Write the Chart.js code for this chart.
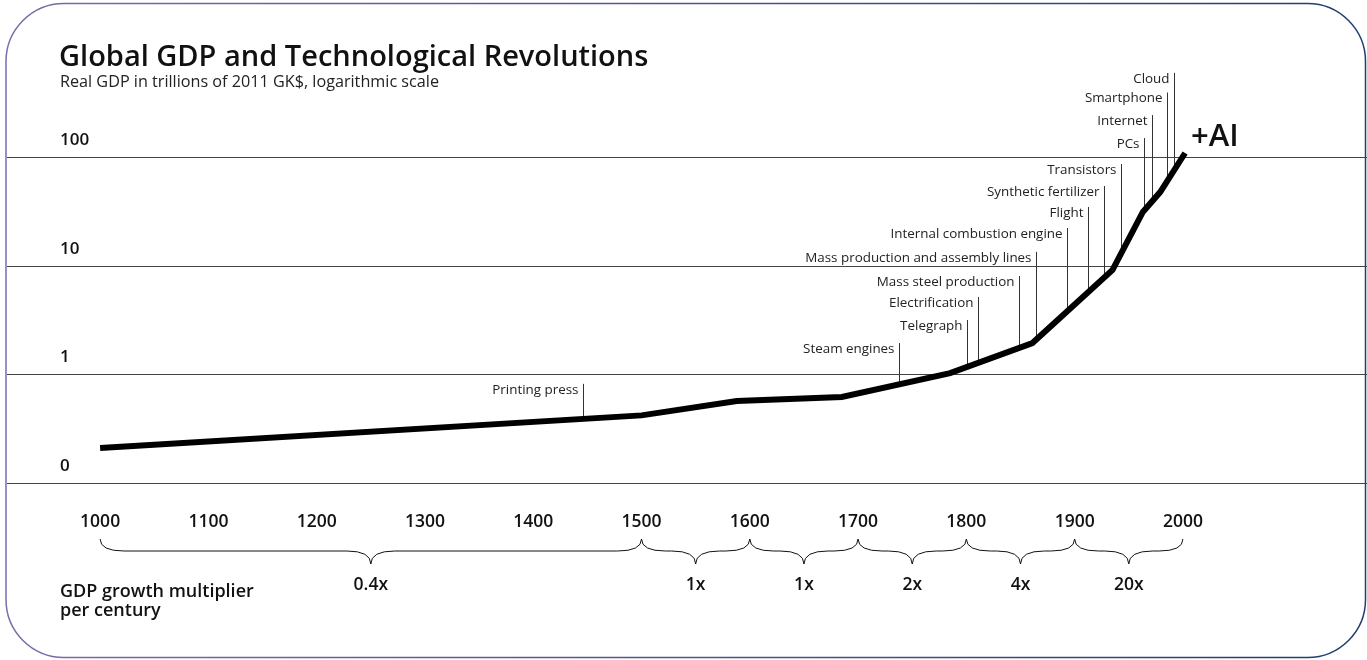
<!DOCTYPE html>
<html>
<head>
<meta charset="utf-8">
<title>Global GDP and Technological Revolutions</title>
<script src="https://cdn.jsdelivr.net/npm/chart.js@4.4.1/dist/chart.umd.min.js"></script>
<style>
  html, body { margin: 0; padding: 0; background: #fff; }
  #wrap { position: relative; width: 1367px; height: 660px; }
</style>
</head>
<body>
<div id="wrap"><canvas id="chart"></canvas></div>
<script>
// Real GDP in trillions of 2011 GK$
const gdpYears = [1000, 1500, 1588, 1685, 1785, 1861, 1935, 1963, 1979, 2002];
const gdpValues = [0.21, 0.42, 0.57, 0.62, 1.03, 1.95, 9.2, 31.5, 48, 110];

// Axis ticks
const yearTicks = [1000, 1100, 1200, 1300, 1400, 1500, 1600, 1700, 1800, 1900, 2000];
const gdpTicks = [0.1, 1, 10, 100];
const gdpTickLabels = ['0', '1', '10', '100'];

// Technology markers: label, year, and the height the label sits at (GDP scale)
const techNames = [
  'Printing press', 'Steam engines', 'Telegraph', 'Electrification',
  'Mass steel production', 'Mass production and assembly lines',
  'Internal combustion engine', 'Flight', 'Synthetic fertilizer',
  'Transistors', 'PCs', 'Internet', 'Smartphone', 'Cloud',
];
const techYears = [1446, 1738, 1801, 1811, 1849, 1864, 1893, 1912, 1927, 1943, 1964, 1971, 1985, 1992];
const techLevels = [0.82, 1.95, 3.18, 5.18, 8.08, 13.5, 22.4, 35.0, 54.6, 87, 151, 246, 397, 603];

// Century brackets under the x axis
const bracketStart = [1000, 1500, 1600, 1700, 1800, 1900];
const bracketEnd = [1500, 1600, 1700, 1800, 1900, 2000];
const growthLabels = ['0.4x', '1x', '1x', '2x', '4x', '20x'];

const FONT = "'Open Sans', 'Noto Sans', sans-serif";
const INK = '#111';

// rounded frame with purple -> navy stroke, plus title block
const framePlugin = {
  id: 'frame',
  beforeDraw(chart) {
    const ctx = chart.ctx;
    const x0 = 6, y0 = 3.5, x1 = 1365.5, y1 = 657.5, r = 58;
    const grad = ctx.createLinearGradient(x0, 0, x1, 0);
    grad.addColorStop(0, '#7d6aa8');
    grad.addColorStop(1, '#1f3d70');
    ctx.save();
    ctx.beginPath();
    ctx.moveTo(x0 + r, y0);
    ctx.arcTo(x1, y0, x1, y1, r);
    ctx.arcTo(x1, y1, x0, y1, r);
    ctx.arcTo(x0, y1, x0, y0, r);
    ctx.arcTo(x0, y0, x1, y0, r);
    ctx.closePath();
    ctx.strokeStyle = grad;
    ctx.lineWidth = 1.5;
    ctx.stroke();

    ctx.fillStyle = INK;
    ctx.textAlign = 'left';
    ctx.textBaseline = 'alphabetic';
    ctx.font = `600 29px ${FONT}`;
    ctx.fillText('Global GDP and Technological Revolutions', 59, 66);
    ctx.font = `16.2px ${FONT}`;
    ctx.fillStyle = '#222';
    ctx.fillText('Real GDP in trillions of 2011 GK$, logarithmic scale', 60, 87);
    ctx.restore();
  },
};

function curveYAt(meta, x) {
  const pts = meta.data;
  for (let i = 1; i < pts.length; i++) {
    if (x <= pts[i].x) {
      const a = pts[i - 1], b = pts[i];
      return a.y + (b.y - a.y) * (x - a.x) / (b.x - a.x);
    }
  }
  return pts[pts.length - 1].y;
}

// technology labels with leader lines down to the curve
const techPlugin = {
  id: 'techMarkers',
  beforeDatasetsDraw(chart) {
    const { ctx, scales: { x, y } } = chart;
    const meta = chart.getDatasetMeta(0);
    ctx.save();
    ctx.strokeStyle = '#333';
    ctx.lineWidth = 1;
    ctx.fillStyle = '#222';
    ctx.font = `13.4px ${FONT}`;
    ctx.textAlign = 'right';
    ctx.textBaseline = 'middle';
    techNames.forEach((name, i) => {
      const px = Math.round(x.getPixelForValue(techYears[i])) + 0.5;
      const top = y.getPixelForValue(techLevels[i]);
      const bottom = curveYAt(meta, px);
      ctx.beginPath();
      ctx.moveTo(px, top);
      ctx.lineTo(px, bottom);
      ctx.stroke();
      ctx.fillText(name, px - 5, top + 6);
    });
    ctx.restore();
  },
  afterDatasetsDraw(chart) {
    const ctx = chart.ctx;
    const pts = chart.getDatasetMeta(0).data;
    const last = pts[pts.length - 1];
    ctx.save();
    ctx.fillStyle = INK;
    ctx.font = `600 31px ${FONT}`;
    ctx.textAlign = 'left';
    ctx.textBaseline = 'middle';
    ctx.fillText('+AI', last.x + 6, last.y - 16);
    ctx.restore();
  },
};

// curly brackets + growth multipliers per century
const bracketPlugin = {
  id: 'brackets',
  afterDraw(chart) {
    const { ctx, scales: { x } } = chart;
    const top = 539, mid = 551, tip = 564;
    ctx.save();
    ctx.strokeStyle = '#111';
    ctx.lineWidth = 1;
    bracketStart.forEach((start, i) => {
      const a = x.getPixelForValue(start);
      const b = x.getPixelForValue(bracketEnd[i]);
      const m = (a + b) / 2;
      const r = Math.min(24, (b - a) / 4.5);
      ctx.beginPath();
      ctx.moveTo(a, top);
      ctx.quadraticCurveTo(a, mid, a + r, mid);
      ctx.lineTo(m - r, mid);
      ctx.quadraticCurveTo(m, mid, m, tip);
      ctx.quadraticCurveTo(m, mid, m + r, mid);
      ctx.lineTo(b - r, mid);
      ctx.quadraticCurveTo(b, mid, b, top);
      ctx.stroke();
    });

    ctx.fillStyle = INK;
    ctx.font = `600 17.5px ${FONT}`;
    ctx.textAlign = 'center';
    ctx.textBaseline = 'middle';
    growthLabels.forEach((label, i) => {
      const m = x.getPixelForValue((bracketStart[i] + bracketEnd[i]) / 2);
      ctx.fillText(label, m, 585);
    });
    ctx.textAlign = 'left';
    ctx.font = `600 18px ${FONT}`;
    ctx.fillText('GDP growth multiplier', 60, 592);
    ctx.fillText('per century', 60, 611);
    ctx.restore();
  },
};

new Chart(document.getElementById('chart'), {
  type: 'line',
  data: {
    datasets: [{
      label: 'Real GDP',
      data: gdpYears.map((yr, i) => ({ x: yr, y: gdpValues[i] })),
      borderColor: '#000',
      borderWidth: 6,
      pointRadius: 0,
      tension: 0,
      fill: false,
    }],
  },
  options: {
    responsive: true,
    maintainAspectRatio: false,
    animation: false,
    layout: { padding: { left: 7, right: 0, top: 49, bottom: 98 } },
    plugins: {
      legend: { display: false },
      tooltip: { enabled: false },
    },
    scales: {
      x: {
        type: 'linear',
        min: 914,
        max: 2170,
        afterBuildTicks: s => { s.ticks = yearTicks.map(v => ({ value: v })); },
        grid: { display: false, drawTicks: false },
        border: { display: false },
        ticks: {
          color: INK,
          font: { family: FONT, size: 17.5, weight: '600' },
          padding: 29,
          maxRotation: 0,
          autoSkip: false,
          callback: v => String(v),
        },
      },
      y: {
        type: 'logarithmic',
        min: 0.1,
        max: 1000,
        afterBuildTicks: s => { s.ticks = gdpTicks.map(v => ({ value: v })); },
        // labels sit inside the plot, so the axis itself takes no room
        afterFit: s => { s.width = 0; s.paddingTop = 0; s.paddingBottom = 0; },
        grid: { color: '#444', lineWidth: 1, drawTicks: false },
        border: { display: false },
        ticks: {
          mirror: true,
          padding: 53,
          labelOffset: -17,
          color: INK,
          font: { family: FONT, size: 17, weight: '600' },
          callback: (v, i) => gdpTickLabels[i],
        },
      },
    },
  },
  plugins: [framePlugin, techPlugin, bracketPlugin],
});
</script>
</body>
</html>
